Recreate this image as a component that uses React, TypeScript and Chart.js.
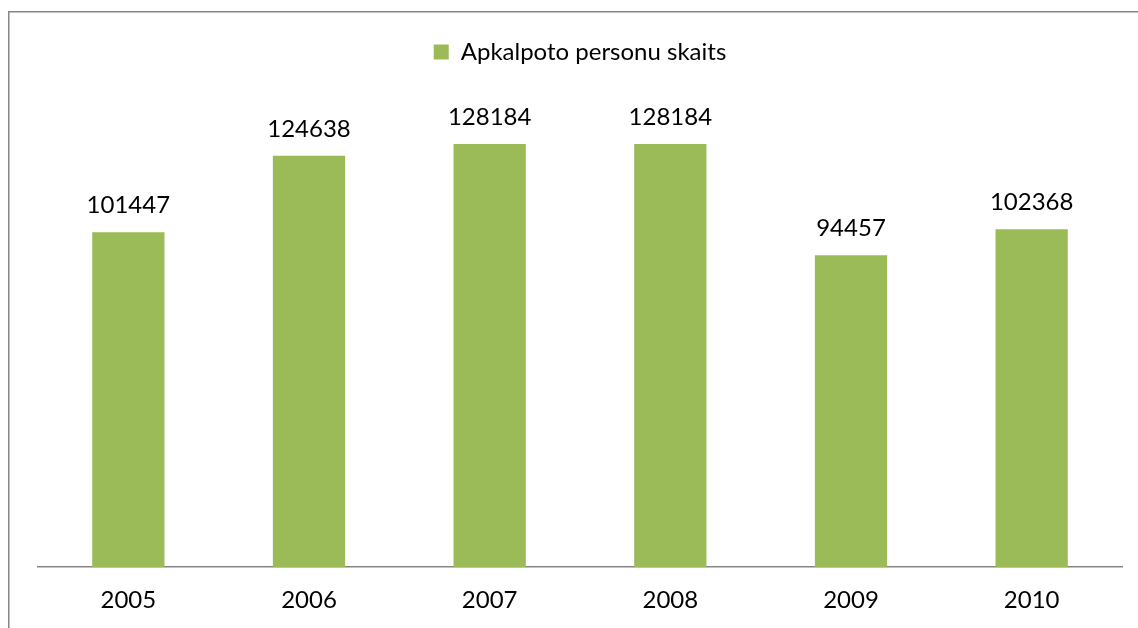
import React, { useEffect, useRef } from "react";
import { Chart, registerables } from "chart.js";

Chart.register(...registerables);

const years = ["2005", "2006", "2007", "2008", "2009", "2010"];
const persons = [101447, 124638, 128184, 128184, 94457, 102368];
const seriesLabel = "Apkalpoto personu skaits";
const yMax = 140000;

const FONT = "Lato, 'Liberation Sans', sans-serif";
const BAR = "#9BBB59";
const GRAY = "#868686";

const framePlugin = {
  id: "frame",
  beforeDraw(chart: any) {
    const ctx = chart.ctx;
    ctx.save();
    ctx.fillStyle = "#ffffff";
    ctx.fillRect(0, 0, chart.width, chart.height);
    ctx.strokeStyle = GRAY;
    ctx.lineWidth = 1.5;
    ctx.strokeRect(8.75, 11.75, 3000, 3000);
    ctx.restore();
  },
};

const labelPlugin = {
  id: "barValues",
  afterDatasetsDraw(chart: any) {
    const ctx = chart.ctx;
    const meta = chart.getDatasetMeta(0);
    const values = chart.data.datasets[0].data;
    ctx.save();
    ctx.fillStyle = "#000000";
    ctx.font = `24px ${FONT}`;
    ctx.textAlign = "center";
    ctx.textBaseline = "alphabetic";
    meta.data.forEach((bar: any, i: number) => {
      ctx.fillText(String(values[i]), bar.x, bar.y - 19);
    });
    ctx.restore();
  },
};

export default function App() {
  const ref = useRef<HTMLCanvasElement>(null);
  useEffect(() => {
    if (!ref.current) return;
    const chart = new Chart(ref.current, {
      type: "bar",
      data: {
        labels: years,
        datasets: [
          {
            label: seriesLabel,
            data: persons,
            backgroundColor: BAR,
            borderWidth: 0,
            categoryPercentage: 1,
            barPercentage: 0.4,
          },
        ],
      },
      options: {
        responsive: false,
        animation: false,
        layout: { padding: { left: 38, right: 16, top: 30, bottom: -6 } },
        plugins: {
          legend: {
            position: "top",
            weight: 1000,
            labels: {
              boxWidth: 15,
              boxHeight: 15,
              padding: 10,
              color: "#000000",
              font: { family: FONT, size: 24 },
            },
          },
          title: {
            display: true,
            text: "",
            position: "top",
            weight: 500,
            font: { size: 10, lineHeight: 1 },
            padding: { top: 0, bottom: 21 },
          },
          tooltip: { enabled: false },
        },
        scales: {
          x: {
            grid: { display: false, drawTicks: false },
            border: { display: true, color: GRAY, width: 1.5 },
            ticks: {
              color: "#000000",
              padding: 19,
              font: { family: FONT, size: 24 },
            },
          },
          y: {
            display: false,
            min: 0,
            max: yMax,
          },
        },
      },
      plugins: [framePlugin, labelPlugin],
    });
    return () => chart.destroy();
  }, []);
  return (
    <div style={{ position: "fixed", left: 0, top: 0, width: 1138, height: 628 }}>
      <canvas ref={ref} width={1138} height={628} style={{ display: "block" }} />
    </div>
  );
}
